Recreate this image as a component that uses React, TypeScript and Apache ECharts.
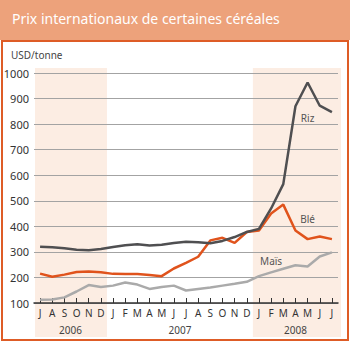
import React, { useEffect, useRef } from "react";
import * as echarts from "echarts";

const months = [
  "2006-07", "2006-08", "2006-09", "2006-10", "2006-11", "2006-12",
  "2007-01", "2007-02", "2007-03", "2007-04", "2007-05", "2007-06",
  "2007-07", "2007-08", "2007-09", "2007-10", "2007-11", "2007-12",
  "2008-01", "2008-02", "2008-03", "2008-04", "2008-05", "2008-06", "2008-07",
];
const monthLetters = [
  "J", "A", "S", "O", "N", "D",
  "J", "F", "M", "A", "M", "J", "J", "A", "S", "O", "N", "D",
  "J", "F", "M", "A", "M", "J", "J",
];
const years = ["2006", "2007", "2008"];

const riz = [320, 318, 314, 308, 306, 311, 319, 326, 330, 325, 328, 335, 340, 338, 334, 343, 358, 378, 390, 470, 565, 870, 963, 872, 847];
const ble = [215, 203, 211, 221, 223, 220, 214, 213, 213, 210, 205, 235, 257, 281, 345, 355, 335, 378, 384, 450, 485, 384, 350, 360, 350];
const mais = [113, 114, 122, 145, 170, 163, 168, 180, 172, 155, 163, 168, 149, 155, 161, 168, 175, 183, 205, 220, 234, 248, 243, 282, 298];

export default function App() {
  const ref = useRef<HTMLDivElement>(null);
  useEffect(() => {
    if (!ref.current) return;
    const chart = echarts.init(ref.current, null, { renderer: "svg" });
    const font = "'Noto Sans', 'Open Sans', sans-serif";
    const gridLeft = 34;
    const gridRight = 12;
    const band = (350 - gridLeft - gridRight) / months.length;
    chart.setOption({
      animation: false,
      textStyle: { fontFamily: font },
      graphic: [
        { type: "rect", z: -20, shape: { x: 0, y: 0, width: 350, height: 40 }, style: { fill: "#eda27b" } },
        { type: "rect", z: -20, shape: { x: 2, y: 41, width: 346, height: 299 }, style: { fill: "#ffffff", stroke: "#de5c26", lineWidth: 2 } },
        { type: "rect", z: -10, shape: { x: gridLeft + 1, y: 68, width: band * 6 - 1, height: 269 }, style: { fill: "#fcede3" } },
        { type: "rect", z: -10, shape: { x: gridLeft + band * 18, y: 68, width: 341 - (gridLeft + band * 18), height: 269 }, style: { fill: "#fcede3" } },
        { type: "text", z: 10, left: 12, top: 11, style: { text: "Prix internationaux de certaines céréales", fill: "#ffffff", font: "14px " + font } },
        { type: "text", z: 10, left: 11, top: 50, style: { text: "USD/tonne", fill: "#444444", font: "10px " + font } },
        { type: "text", z: 10, x: gridLeft + band * 3, y: 330, style: { text: years[0], fill: "#444444", font: "10px " + font, align: "center", verticalAlign: "middle" } },
        { type: "text", z: 10, x: gridLeft + band * 12, y: 330, style: { text: years[1], fill: "#444444", font: "10px " + font, align: "center", verticalAlign: "middle" } },
        { type: "text", z: 10, x: gridLeft + band * 21.5, y: 330, style: { text: years[2], fill: "#444444", font: "10px " + font, align: "center", verticalAlign: "middle" } },
      ],
      grid: { left: gridLeft, right: gridRight, top: 73, bottom: 41, containLabel: false },
      xAxis: {
        type: "category",
        data: months,
        boundaryGap: true,
        axisLine: { lineStyle: { color: "#333333", width: 1.5 } },
        axisTick: { show: true, inside: true, length: 5, alignWithLabel: true, interval: 0, lineStyle: { color: "#333333", width: 1 } },
        axisLabel: {
          interval: 0,
          margin: 5,
          fontSize: 10,
          color: "#333333",
          formatter: (_v: string, i: number) => monthLetters[i],
        },
        splitLine: { show: false },
      },
      yAxis: {
        type: "value",
        min: 100,
        max: 1000,
        interval: 100,
        axisLine: { show: false },
        axisTick: { show: false },
        axisLabel: { fontSize: 11, color: "#333333", margin: 5, formatter: (v: number) => String(v) },
        splitLine: { lineStyle: { color: "#a3a3a3", width: 1 } },
      },
      series: [
        {
          name: "Maïs",
          type: "line",
          data: mais,
          symbol: "none",
          lineStyle: { color: "#aaaaaa", width: 2.5 },
          itemStyle: { color: "#aaaaaa" },
          markPoint: {
            symbol: "circle",
            symbolSize: 0,
            data: [{ coord: [19, 264], label: { show: true, formatter: "Maïs", color: "#555555", fontSize: 10, fontFamily: font } }],
          },
        },
        {
          name: "Blé",
          type: "line",
          data: ble,
          symbol: "none",
          lineStyle: { color: "#e0531c", width: 2.5 },
          itemStyle: { color: "#e0531c" },
          markPoint: {
            symbol: "circle",
            symbolSize: 0,
            data: [{ coord: [21.8, 428], label: { show: true, formatter: "Blé", color: "#555555", fontSize: 10, fontFamily: font } }],
          },
        },
        {
          name: "Riz",
          type: "line",
          data: riz,
          symbol: "none",
          lineStyle: { color: "#4f4f51", width: 2.5 },
          itemStyle: { color: "#4f4f51" },
          markPoint: {
            symbol: "circle",
            symbolSize: 0,
            data: [{ coord: [22.1, 825], label: { show: true, formatter: "Riz", color: "#555555", fontSize: 10, fontFamily: font } }],
          },
        },
      ],
    });
    return () => chart.dispose();
  }, []);
  return <div ref={ref} style={{ position: "absolute", left: 0, top: 0, width: 350, height: 344 }} />;
}
